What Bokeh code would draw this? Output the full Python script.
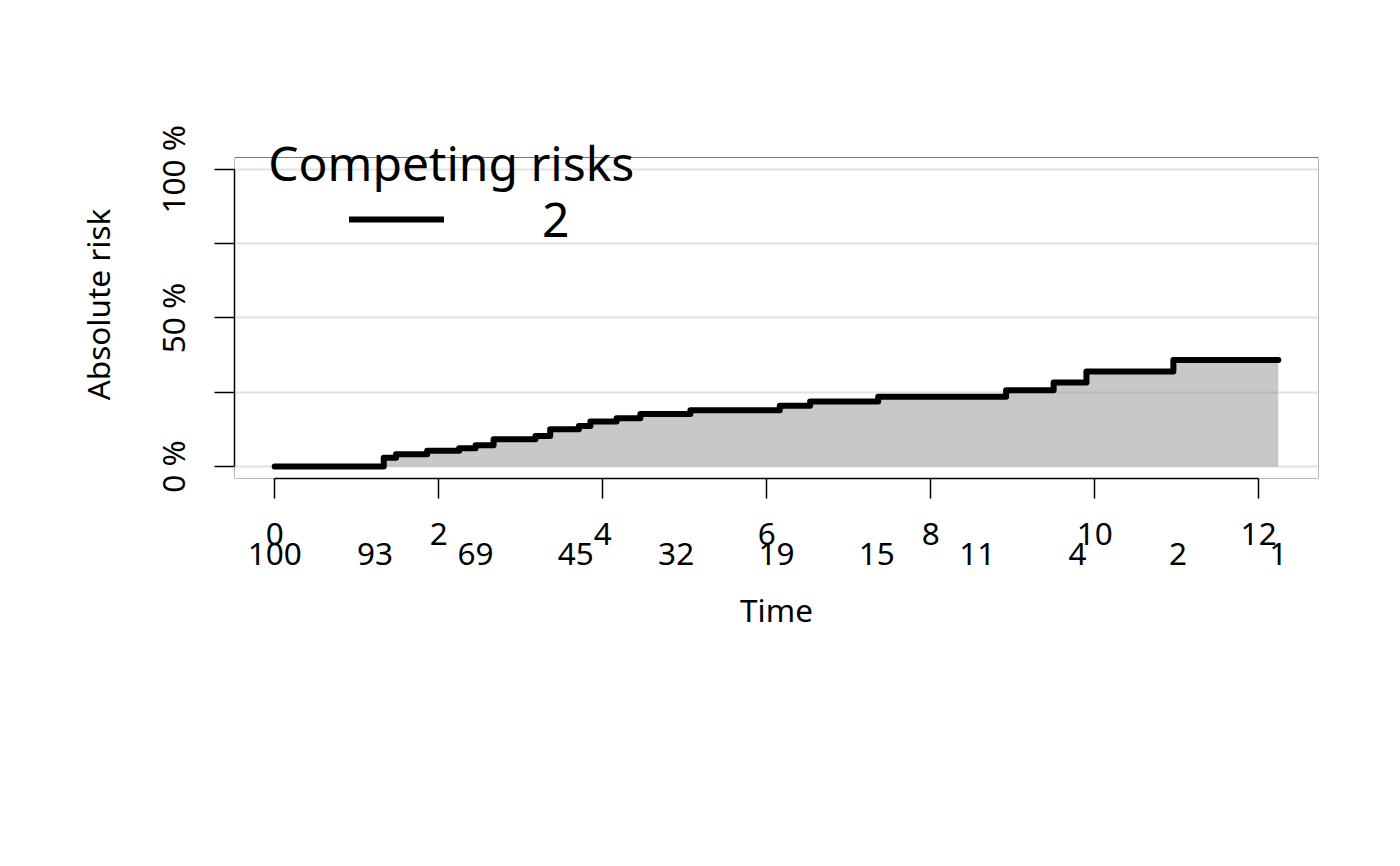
from bokeh.plotting import figure
from bokeh.models import (LinearAxis, FixedTicker, Grid, Range1d, Legend,
                          LegendItem, Label, BoxAnnotation)
from bokeh.embed import file_html
from bokeh.resources import INLINE

# ---- data ----
event_times = [0, 1.33, 1.48, 1.86, 2.25, 2.45, 2.67, 3.18, 3.36, 3.71, 3.85,
               4.17, 4.46, 5.07, 6.16, 6.53, 7.36, 8.92, 9.50, 9.90, 10.96, 12.24]
absolute_risk = [0, 3.0, 4.2, 5.3, 6.2, 7.2, 9.2, 10.3, 12.6, 13.7, 15.2,
                 16.3, 17.7, 19.0, 20.5, 21.9, 23.5, 25.7, 28.3, 32.0, 35.9, 35.9]
x_ticks = [0, 2, 4, 6, 8, 10, 12]
y_ticks = [0, 25, 50, 75, 100]
y_tick_labels = ["0 %", "", "50 %", "", "100 %"]
atrisk_times = [0, 1.224, 2.448, 3.672, 4.896, 6.12, 7.344, 8.568, 9.792, 11.016, 12.24]
atrisk_counts = ["100", "93", "69", "45", "32", "19", "15", "11", "4", "2", "1"]
cause_label = "2"
legend_title = "Competing risks"

FONT = "Noto Sans"
TICK_FS = "31.5px"
LEG_FS = "48px"

# plotting region (R box) limits
X_LO, X_HI = -0.49, 12.73
Y_LO, Y_HI = -4, 104

p = figure(width=1384, height=850,
           x_range=Range1d(X_LO, X_HI), y_range=Range1d(Y_LO, 113.08),
           x_axis_location=None, y_axis_location=None,
           toolbar_location=None, output_backend="svg",
           min_border_left=234, min_border_right=66,
           min_border_top=130, min_border_bottom=372)
p.center = []  # drop default grids
p.outline_line_color = None
p.background_fill_color = "white"
p.border_fill_color = "white"

# box around the plotting region
box = BoxAnnotation(left=X_LO, right=X_HI, bottom=Y_LO, top=Y_HI,
                    fill_alpha=0, line_color="#777777", line_alpha=1.0,
                    line_width=1, level="underlay")
p.add_layout(box)

# grid (drawn above the fill, below the line)
grid = Grid(dimension=1, ticker=FixedTicker(ticks=y_ticks),
            grid_line_color="#9a9a9a", grid_line_alpha=0.3, grid_line_width=2,
            level="guide")
p.add_layout(grid)

# area and step line
p.varea_step(x=event_times, y1=[0] * len(event_times), y2=absolute_risk,
             step_mode="after", fill_color="#c8c8c8", fill_alpha=1.0)
line_r = p.step(event_times, absolute_risk, mode="after", line_width=6,
                line_color="black", line_cap="round", line_join="round")
line_r.level = "annotation"

def style_axis(ax):
    ax.major_label_text_font = FONT
    ax.major_label_text_font_size = TICK_FS
    ax.major_label_text_color = "black"
    ax.axis_label_text_font = FONT
    ax.axis_label_text_font_size = TICK_FS
    ax.axis_label_text_font_style = "normal"
    ax.axis_label_text_color = "black"
    ax.axis_line_color = "black"
    ax.axis_line_width = 1.5
    ax.major_tick_line_color = "black"
    ax.major_tick_line_width = 1.5
    ax.major_tick_in = 0
    ax.major_tick_out = 20
    ax.minor_tick_line_color = None

# y axis
yax = LinearAxis(ticker=FixedTicker(ticks=y_ticks),
                 major_label_overrides={t: l for t, l in zip(y_ticks, y_tick_labels)},
                 bounds=(0, 100), axis_label="Absolute risk")
style_axis(yax)
yax.major_label_orientation = "vertical"
yax.major_label_standoff = 20
yax.axis_label_standoff = 30
p.add_layout(yax, "left")

# x axis (time ticks)
xax = LinearAxis(ticker=FixedTicker(ticks=x_ticks), bounds=(0, 12))
style_axis(xax)
xax.major_label_standoff = 24
p.add_layout(xax, "below")

# numbers at risk row
xax2 = LinearAxis(ticker=FixedTicker(ticks=atrisk_times),
                  major_label_overrides={t: c for t, c in zip(atrisk_times, atrisk_counts)},
                  axis_label="Time")
style_axis(xax2)
xax2.axis_line_color = None
xax2.major_tick_line_color = None
xax2.major_tick_out = 0
xax2.major_label_standoff = -5
xax2.axis_label_standoff = 20
p.add_layout(xax2, "below")

# legend
legend = Legend(items=[LegendItem(label=cause_label, renderers=[line_r])],
                location=(115, 227), glyph_width=95, glyph_height=30,
                label_standoff=98, padding=0, margin=0, spacing=0,
                border_line_color=None, background_fill_alpha=0,
                label_text_font=FONT, label_text_font_size=LEG_FS,
                label_text_color="black")
p.add_layout(legend)

title_lbl = Label(x=-0.079, y=102.4, text=legend_title, text_font=FONT,
                  text_font_size=LEG_FS, text_baseline="alphabetic",
                  text_color="black")
p.add_layout(title_lbl)

open("out.html", "w").write(file_html(p, INLINE))
